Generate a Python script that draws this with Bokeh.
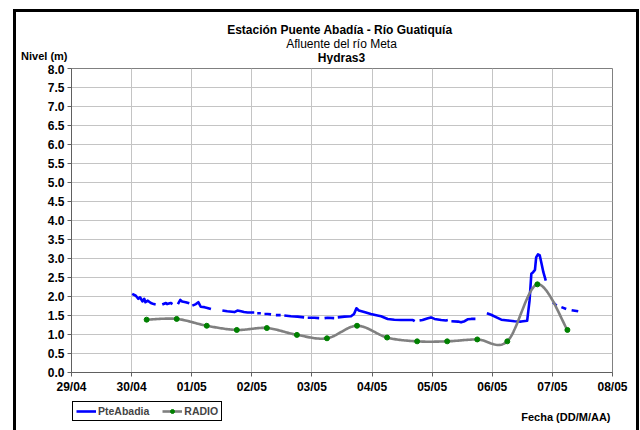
import numpy as np
from bokeh.plotting import figure
from bokeh.layouts import column
from bokeh.models import Range1d, FixedTicker, Label, Legend, LegendItem
from bokeh.embed import file_html
from bokeh.resources import INLINE

NaN = float("nan")

# x axis: days from 29/04 00:00
tick_days = [0, 1, 2, 3, 4, 5, 6, 7, 8, 9]
tick_labels = ["29/04", "30/04", "01/05", "02/05", "03/05", "04/05",
               "05/05", "06/05", "07/05", "08/05"]
y_ticks = [0.0, 0.5, 1.0, 1.5, 2.0, 2.5, 3.0, 3.5, 4.0, 4.5, 5.0, 5.5,
           6.0, 6.5, 7.0, 7.5, 8.0]

# PteAbadia level (m); NaN marks missing data (gaps in the line)
pte_t = [1.01, 1.07, 1.11, 1.14, 1.18, 1.21, 1.23, 1.27, 1.32, 1.37, 1.40, NaN,
         1.51, 1.57, 1.59, 1.65, 1.68, NaN,
         1.77, 1.81, 1.84, 1.90, 1.96, NaN,
         2.01, 2.07, 2.11, 2.15, 2.21, 2.26, 2.32, NaN,
         2.51, 2.59, 2.71, 2.76, 2.82, 2.87, 2.93, 3.04, NaN,
         3.09, 3.15, NaN,
         3.21, 3.26, 3.32, NaN,
         3.40, 3.48, NaN,
         3.54, 3.65, 3.76, 3.87, NaN,
         3.93, 4.04, 4.12, NaN,
         4.21, 4.26, 4.37, NaN,
         4.43, 4.54, 4.65, 4.70, 4.74, 4.78, 4.87, 4.98, 5.09, 5.15, 5.26, 5.37,
         5.48, 5.59, 5.68, 5.71, NaN,
         5.79, 5.84, 5.93, 5.98, 6.04, 6.15, 6.23, 6.26, NaN,
         6.32, 6.43, 6.48, 6.54, 6.59, 6.65, 6.72, NaN,
         6.91, 6.98, 7.07, 7.15, 7.26, 7.37, 7.48, 7.58, 7.62, 7.65, 7.68, 7.71,
         7.73, 7.76, 7.79, 7.82, 7.85, 7.89, NaN,
         8.01, 8.07, NaN,
         8.15, 8.23, NaN,
         8.32, 8.43]
pte_nivel = [2.07, 2.02, 1.94, 1.98, 1.87, 1.94, 1.85, 1.89, 1.83, 1.80, 1.79, NaN,
             1.79, 1.83, 1.80, 1.83, 1.80, NaN,
             1.80, 1.91, 1.87, 1.85, 1.82, NaN,
             1.76, 1.80, 1.85, 1.73, 1.72, 1.70, 1.67, NaN,
             1.63, 1.61, 1.59, 1.63, 1.61, 1.59, 1.58, 1.58, NaN,
             1.56, 1.56, NaN,
             1.54, 1.54, 1.53, NaN,
             1.51, 1.51, NaN,
             1.50, 1.48, 1.47, 1.45, NaN,
             1.44, 1.44, 1.43, NaN,
             1.43, 1.44, 1.43, NaN,
             1.45, 1.47, 1.48, 1.54, 1.69, 1.63, 1.59, 1.54, 1.50, 1.48, 1.41, 1.39,
             1.38, 1.38, 1.38, 1.35, NaN,
             1.37, 1.38, 1.43, 1.45, 1.41, 1.38, 1.37, 1.38, NaN,
             1.35, 1.34, 1.32, 1.35, 1.40, 1.41, 1.41, NaN,
             1.56, 1.52, 1.45, 1.39, 1.37, 1.35, 1.34, 1.36, 1.89, 2.60, 2.64, 2.70,
             3.03, 3.11, 3.08, 2.86, 2.64, 2.42, NaN,
             1.85, 1.76, NaN,
             1.72, 1.67, NaN,
             1.64, 1.61]

# RADIO level (m), every 12 h
radio_t = [1.25, 1.75, 2.25, 2.75, 3.25, 3.75, 4.25, 4.75, 5.25, 5.75, 6.25,
           6.75, 7.25, 7.75, 8.25]
radio_nivel = [1.39, 1.41, 1.23, 1.12, 1.17, 0.99, 0.90, 1.23, 0.92, 0.82,
               0.82, 0.87, 0.82, 2.32, 1.12]

series_names = ["PteAbadia", "RADIO"]
title_lines = ["Estación Puente Abadía  - Río Guatiquía", "Afluente del río Meta",
               "Hydras3"]
y_title = "Nivel (m)"
x_title = "Fecha (DD/M/AA)"


def smooth(xs, ys, n=24):
    """Catmull-Rom smoothing (like a spreadsheet 'smoothed line')."""
    P = np.column_stack([xs, ys]).astype(float)
    P = np.vstack([P[0], P, P[-1]])
    out = []
    for i in range(1, len(P) - 2):
        p0, p1, p2, p3 = P[i - 1], P[i], P[i + 1], P[i + 2]
        m1 = (p2 - p0) / 2.0
        m2 = (p3 - p1) / 2.0
        for s in np.linspace(0, 1, n, endpoint=(i == len(P) - 3)):
            h00 = 2 * s**3 - 3 * s**2 + 1
            h10 = s**3 - 2 * s**2 + s
            h01 = -2 * s**3 + 3 * s**2
            h11 = s**3 - s**2
            out.append(h00 * p1 + h10 * m1 + h01 * p2 + h11 * m2)
    out = np.array(out)
    return out[:, 0], out[:, 1]


FONT = "Liberation Sans"
W = 620
LEFT, RIGHT = 55, 24          # plot-area margins inside the chart box
BLUE, GRAY, GREEN = "#0000ff", "#808080", "#008000"


def blank_fig(h, y_axis=False):
    f = figure(width=W, height=h, output_backend="svg", toolbar_location=None,
               x_range=Range1d(LEFT, W - RIGHT), y_range=Range1d(h, 0),
               x_axis_location=None,
               y_axis_location=("left" if y_axis else None),
               min_border=0, min_border_left=LEFT, min_border_right=RIGHT,
               min_border_top=0, min_border_bottom=0)
    f.grid.visible = False
    f.outline_line_color = None
    f.background_fill_color = "white"
    f.border_fill_color = "white"
    return f


def lab(f, text, x, y, size="12px", style="bold", align="center"):
    f.add_layout(Label(x=x, y=y, text=text, text_font=FONT, text_font_size=size,
                       text_font_style=style, text_align=align,
                       text_baseline="middle", text_color="black"))


# ---- header (titles + y-axis title) ----
top = blank_fig(52, y_axis=True)
lab(top, title_lines[0], 325, 17)
lab(top, title_lines[1], 325, 31, style="normal")
lab(top, title_lines[2], 325, 45)
ty = top.yaxis[0]
ty.ticker = FixedTicker(ticks=[43])
ty.major_label_overrides = {43: y_title}
ty.axis_line_color = None
ty.major_tick_line_color = None
ty.minor_tick_line_color = None
ty.major_tick_in = 0
ty.major_tick_out = 0
ty.major_label_standoff = 4
ty.major_label_text_font = FONT
ty.major_label_text_font_style = "bold"
ty.major_label_text_font_size = "11px"
ty.major_label_text_color = "black"

# ---- main chart ----
p = figure(width=W, height=332, output_backend="svg", toolbar_location=None,
           x_range=Range1d(0, 9), y_range=Range1d(0, 8),
           min_border_left=LEFT, min_border_right=RIGHT, min_border_top=4,
           min_border_bottom=24)
p.background_fill_color = "white"
p.border_fill_color = "white"
p.outline_line_color = GRAY
p.outline_line_width = 1

p.xgrid.ticker = FixedTicker(ticks=tick_days)
p.ygrid.ticker = FixedTicker(ticks=y_ticks)
p.xgrid.grid_line_color = "#c4c4c4"
p.ygrid.grid_line_color = "#c4c4c4"

xa = p.xaxis[0]
xa.ticker = FixedTicker(ticks=tick_days)
xa.major_label_overrides = {d: t for d, t in zip(tick_days, tick_labels)}
ya = p.yaxis[0]
ya.ticker = FixedTicker(ticks=y_ticks)
ya.major_label_overrides = {v: f"{v:.1f}" for v in y_ticks}
for ax in (xa, ya):
    ax.axis_line_color = "#606060"
    ax.major_tick_line_color = "#606060"
    ax.major_tick_in = 0
    ax.major_tick_out = 4
    ax.minor_tick_line_color = None
    ax.major_label_text_font = FONT
    ax.major_label_text_font_style = "bold"
    ax.major_label_text_font_size = "12px"
    ax.major_label_text_color = "black"
    ax.major_label_standoff = 3

p.line(pte_t, pte_nivel, line_color=BLUE, line_width=2.6, line_join="round")
sx, sy = smooth(radio_t, radio_nivel)
p.line(sx, sy, line_color=GRAY, line_width=2.6, line_join="round")
p.scatter(radio_t, radio_nivel, size=5, fill_color=GREEN, line_color=GREEN)

# ---- footer (legend + x-axis title) ----
bot = blank_fig(34)
# legend swatches (drawn off-screen; only their legend glyphs show)
g1 = bot.line([0, 1], [-50, -50], line_color=BLUE, line_width=2.6)
g2 = bot.line([0, 1], [-50, -50], line_color=GRAY, line_width=2.6)
g3 = bot.scatter([0], [-50], size=5, fill_color=GREEN, line_color=GREEN)
legend = Legend(items=[LegendItem(label=series_names[0], renderers=[g1]),
                       LegendItem(label=series_names[1], renderers=[g2, g3])],
                orientation="horizontal", location=(1, 9),
                padding=3, spacing=13, label_standoff=2,
                glyph_width=20, glyph_height=10, margin=0,
                label_text_font=FONT, label_text_font_style="bold",
                label_text_font_size="10.5px", label_height=10,
                border_line_color="black", border_line_width=1,
                border_line_alpha=1,
                background_fill_color="white", background_fill_alpha=1)
bot.add_layout(legend, "center")
lab(bot, x_title, 594, 20, size="11px", align="right")

layout = column(top, p, bot, spacing=0)
layout.styles = {"border-left": "3px solid black", "border-top": "3px solid black",
                 "border-right": "3px solid black", "margin-left": "13px",
                 "margin-top": "9px"}

open("out.html", "w").write(file_html(layout, INLINE))
